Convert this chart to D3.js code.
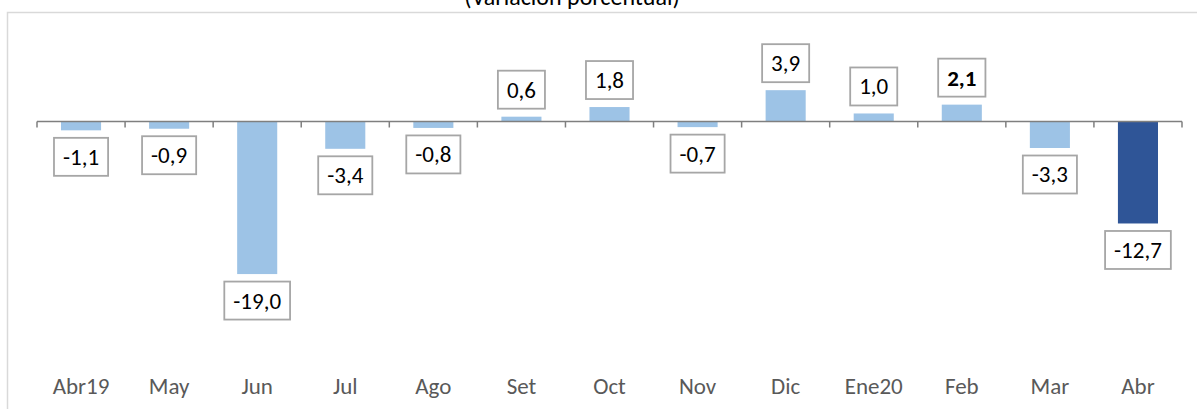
<!DOCTYPE html>
<html><head><meta charset="utf-8">
<script src="https://cdn.jsdelivr.net/npm/d3@7"></script>
<style>
html,body{margin:0;padding:0;background:#fff;}
svg{display:block;font-family:Calibri,Carlito,"Liberation Sans",Arial,sans-serif;}
</style></head>
<body>
<script>
const categories = ["Abr19","May","Jun","Jul","Ago","Set","Oct","Nov","Dic","Ene20","Feb","Mar","Abr"];
const values = [-1.1,-0.9,-19.0,-3.4,-0.8,0.6,1.8,-0.7,3.9,1.0,2.1,-3.3,-12.7];
const labels = ["-1,1","-0,9","-19,0","-3,4","-0,8","0,6","1,8","-0,7","3,9","1,0","2,1","-3,3","-12,7"];
const highlight = ["Abr"];
const boldLabels = ["Feb"];
const title = "(Variación porcentual)";

const W = 1197, H = 409;
const svg = d3.select("body").append("svg").attr("width", W).attr("height", H);

// frame
svg.append("path").attr("d", `M7.5,${H} V12.5 H${W}`).attr("fill","none").attr("stroke","#d9d9d9").attr("stroke-width",1.5);

// title (clipped at top, as in the reference)
svg.append("text").attr("x", 572).attr("y", 5).attr("text-anchor","middle")
  .attr("font-size", 24).attr("fill","#000").text(title);

const x = d3.scaleBand().domain(categories).range([37, 1182]).paddingInner(0.545).paddingOuter(0.2725);
const y = d3.scaleLinear().domain([-25, 5]).range([121.5 + 25*8.03, 121.5 - 5*8.03]);
const y0 = y(0);

// bars
svg.append("g").selectAll("rect").data(categories).join("rect")
  .attr("x", d => x(d))
  .attr("width", x.bandwidth())
  .attr("y", (d,i) => Math.min(y(values[i]), y0))
  .attr("height", (d,i) => Math.abs(y(values[i]) - y0))
  .attr("fill", d => highlight.includes(d) ? "#2f5597" : "#9dc3e6");

// axis line and ticks
const step = x.step();
const tickXs = d3.range(categories.length + 1).map(i => 37 + i*step);
svg.append("line").attr("x1", 37).attr("x2", 1182).attr("y1", y0).attr("y2", y0)
  .attr("stroke","#7f7f7f").attr("stroke-width",1.5);
svg.append("g").selectAll("line").data(tickXs).join("line")
  .attr("x1", d=>d).attr("x2", d=>d).attr("y1", y0).attr("y2", y0+6)
  .attr("stroke","#7f7f7f").attr("stroke-width",1.5);

// category labels
svg.append("g").selectAll("text").data(categories).join("text")
  .attr("x", d => x(d) + x.bandwidth()/2)
  .attr("y", 394)
  .attr("text-anchor","middle")
  .attr("font-size", 23)
  .attr("fill","#595959")
  .text(d => d);

// data labels in boxes
const lg = svg.append("g");
categories.forEach((c,i) => {
  const v = values[i];
  const cx = x(c) + x.bandwidth()/2;
  const boxH = 38;
  const top = v < 0 ? y(v) + 7.5 : y(v) - 8 - boxH;
  const g = lg.append("g");
  const t = g.append("text").attr("x", cx).attr("y", top + boxH/2 + 8)
    .attr("text-anchor","middle").attr("font-size", 23)
    .attr("font-weight", boldLabels.includes(c) ? "bold" : "normal")
    .attr("fill","#000").text(labels[i]);
  const tw = t.node().getComputedTextLength();
  const bw = tw + 18;
  g.insert("rect","text").attr("x", cx - bw/2).attr("y", top).attr("width", bw).attr("height", boxH)
    .attr("fill","#fff").attr("stroke","#a6a6a6").attr("stroke-width",1.8);
});
</script>
</body></html>
